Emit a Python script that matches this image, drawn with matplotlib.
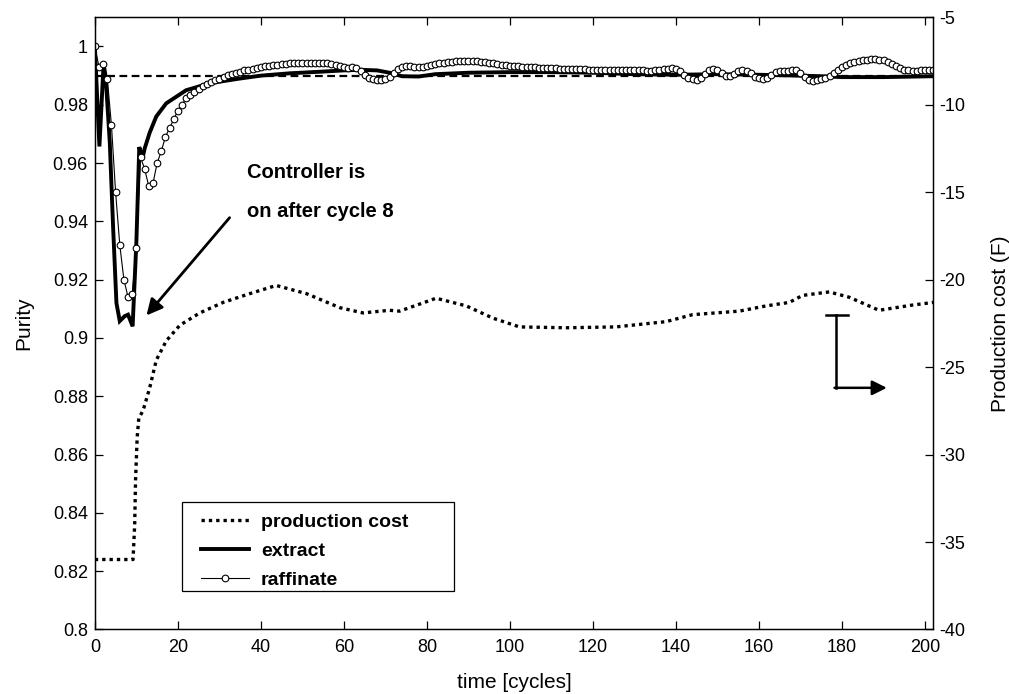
import numpy as np
import matplotlib
matplotlib.use('Agg')
import matplotlib.pyplot as plt
from matplotlib.lines import Line2D
from matplotlib.patches import Rectangle
from matplotlib.ticker import FormatStrFormatter, MultipleLocator

plt.rcParams['font.family'] = ['Liberation Sans', 'DejaVu Sans']
plt.rcParams['axes.unicode_minus'] = False

# raffinate purity, one value per cycle (0..202)
raffinate = [
    1.000, 0.993, 0.994, 0.989, 0.973, 0.950, 0.932, 0.920, 0.914, 0.915,
    0.931, 0.962, 0.958, 0.952, 0.953, 0.960, 0.964, 0.969, 0.972, 0.975,
    0.978, 0.980, 0.9823, 0.9835, 0.9845, 0.9855, 0.9865, 0.9872, 0.9879, 0.9885,
    0.989, 0.9896, 0.9901, 0.9906, 0.991, 0.9914, 0.9918, 0.9921, 0.9924, 0.9927,
    0.9929, 0.9932, 0.9934, 0.9936, 0.9938, 0.994, 0.9941, 0.9942, 0.9943, 0.9944,
    0.9944, 0.9945, 0.9945, 0.9945, 0.9945, 0.9944, 0.9943, 0.9941, 0.9938, 0.9934,
    0.993, 0.9926, 0.9928, 0.9926, 0.9915, 0.9902, 0.9892, 0.9887, 0.9885, 0.9886,
    0.9889, 0.9897, 0.991, 0.9922, 0.9929, 0.9933, 0.9933, 0.993, 0.9928, 0.993,
    0.9934, 0.9938, 0.9941, 0.9943, 0.9945, 0.9947, 0.9948, 0.9949, 0.995, 0.995,
    0.995, 0.995, 0.9949, 0.9948, 0.9946, 0.9944, 0.9942, 0.994, 0.9938, 0.9936,
    0.9934, 0.9933, 0.9932, 0.9931, 0.993, 0.9929, 0.9928, 0.9927, 0.9926, 0.9926,
    0.9925, 0.9925, 0.9924, 0.9924, 0.9923, 0.9923, 0.9922, 0.9922, 0.9922, 0.9921,
    0.9921, 0.9921, 0.992, 0.992, 0.992, 0.992, 0.9919, 0.9919, 0.9919, 0.9918,
    0.9918, 0.9918, 0.9918, 0.9917, 0.9917, 0.9918, 0.992, 0.9922, 0.9924, 0.9925,
    0.9923, 0.9915, 0.9903, 0.9893, 0.9887, 0.9886, 0.9892, 0.9905, 0.9918, 0.9923,
    0.9919, 0.9908, 0.9899, 0.9898, 0.9906, 0.9916, 0.992, 0.9917, 0.9908, 0.9897,
    0.9891, 0.989, 0.9893, 0.9902, 0.9911, 0.9915, 0.9916, 0.9917, 0.9919, 0.9918,
    0.991, 0.9896, 0.9886, 0.9883, 0.9884, 0.9887, 0.9891, 0.9898, 0.9908, 0.9918,
    0.9928, 0.9936, 0.9942, 0.9947, 0.995, 0.9953, 0.9955, 0.9956, 0.9956, 0.9955,
    0.9953, 0.9948, 0.994, 0.9932, 0.9925, 0.992, 0.9918, 0.9917, 0.9917, 0.9918,
    0.992, 0.992, 0.9921,
]
raff_t = np.arange(len(raffinate))

# extract purity
extract_t = [0, 1.1, 2.1, 2.6, 3.6, 4.4, 5.2, 6.0, 7.2, 8.0, 9.1, 10.0, 10.7, 11.5,
             12.0, 13.2, 14.8, 17.2, 22, 27.7, 34.9, 40, 46.9, 55, 60, 64, 68, 71,
             74, 78, 82, 90, 100, 110, 120, 130, 140, 150, 160, 170, 175, 180, 190, 202]
extract = [1.0, 0.9657, 0.9940, 0.9897, 0.967, 0.938, 0.912, 0.9058, 0.9075, 0.908,
           0.904, 0.9327, 0.9655, 0.9618, 0.9650, 0.9704, 0.976, 0.9805, 0.985, 0.9874,
           0.989, 0.990, 0.9908, 0.9914, 0.9918, 0.992, 0.9918, 0.991, 0.9898, 0.9897,
           0.9905, 0.991, 0.9912, 0.9912, 0.991, 0.9905, 0.9903, 0.9905, 0.9903, 0.990,
           0.9898, 0.9895, 0.9895, 0.9898]

# purity set point
setpoint = 0.99

# production cost (right axis)
cost_t = [0, 9.2, 9.6, 9.8, 10.2, 10.6, 11.6, 13.2, 14.8, 17.2, 20.5, 25.3, 30.9, 37.3,
          43.7, 51, 59, 64.6, 71, 73.4, 78.2, 82.2, 89.5, 95.9, 102.3, 113.5, 125.5,
          137.6, 144, 149.6, 155.2, 161.7, 167.3, 170.5, 176.9, 181.7, 188.9, 197, 202]
cost = [-36.0, -36.0, -34.0, -31.5, -29.0, -27.9, -27.5, -26.2, -24.6, -23.5, -22.6,
        -21.9, -21.3, -20.8, -20.33, -20.8, -21.6, -21.9, -21.75, -21.8, -21.4, -21.06,
        -21.5, -22.2, -22.7, -22.75, -22.7, -22.4, -22.0, -21.9, -21.8, -21.5, -21.3,
        -20.9, -20.7, -21.0, -21.75, -21.45, -21.3]

fig = plt.figure(figsize=(10.09, 6.94), dpi=100)
ax = fig.add_axes([0.094, 0.093, 0.831, 0.882])
ax2 = ax.twinx()

ax.plot([0, 202], [setpoint, setpoint], color='k', lw=1.6, linestyle=(0, (3.5, 2)))
ax.plot(extract_t, extract, color='k', lw=2.8, solid_joinstyle='miter')
ax.plot(raff_t, raffinate, color='k', lw=0.8, marker='o', ms=4.8,
        mfc='white', mec='k', mew=0.8)
ax2.plot(cost_t, cost, color='k', lw=2.4, linestyle=(0, (1, 1.2)))

ax.set_xlim(0, 202)
ax.set_ylim(0.8, 1.01)
ax2.set_ylim(-40, -5)
ax.xaxis.set_major_locator(MultipleLocator(20))
ax.yaxis.set_major_locator(MultipleLocator(0.02))
ax.yaxis.set_major_formatter(FormatStrFormatter('%g'))
ax2.yaxis.set_major_locator(MultipleLocator(5))

ax.tick_params(direction='in', length=6, width=0.9, top=True, right=False,
               labelsize=13, pad=5)
ax.tick_params(axis='x', pad=7)
ax2.tick_params(direction='in', length=6, width=0.9, labelsize=13, pad=4)
for a in (ax, ax2):
    for s in a.spines.values():
        s.set_linewidth(0.9)

ax.set_xlabel('time [cycles]', fontsize=15, labelpad=12)
ax.set_ylabel('Purity', fontsize=15, labelpad=14)
ax2.set_ylabel('Production cost (F)', fontsize=15, labelpad=19)

# controller annotation
ax.annotate('', xy=(12.0, 0.907), xytext=(32.9, 0.942),
            arrowprops=dict(arrowstyle='-|>', color='k', lw=2, mutation_scale=24))
ax.text(36.6, 0.9567, 'Controller is', fontsize=14.5, fontweight='bold', va='center')
ax.text(36.6, 0.9433, 'on after cycle 8', fontsize=14.5, fontweight='bold', va='center')

# axis pointer for the cost curve
ax.plot([178.6, 178.6], [0.9078, 0.8829], color='k', lw=1.8)
ax.plot([176.1, 181.5], [0.9078, 0.9078], color='k', lw=1.8)
ax.annotate('', xy=(190.8, 0.8829), xytext=(178.2, 0.8829),
            arrowprops=dict(arrowstyle='-|>', color='k', lw=1.8, mutation_scale=22,
                            shrinkA=0, shrinkB=0))

# legend: frameless entries inside a plain box
ax.add_patch(Rectangle((0.1037, 0.063), 0.325, 0.1455, transform=ax.transAxes,
                       facecolor='white', edgecolor='k', lw=0.9, zorder=4))
handles = [
    Line2D([], [], color='k', lw=2.4, linestyle=(0, (1, 1.2))),
    Line2D([], [], color='k', lw=2.8),
    Line2D([], [], color='k', lw=0.8, marker='o', ms=4.8, mfc='white', mew=0.8),
]
leg = ax.legend(handles, ['production cost', 'extract', 'raffinate'],
                loc='upper left', bbox_to_anchor=(0.1263, 0.1894),
                borderaxespad=0, borderpad=0, frameon=False,
                handlelength=2.5, handletextpad=0.6, labelspacing=0.59,
                prop={'size': 14, 'weight': 'bold'})
leg.set_zorder(5)

fig.savefig('out.png', dpi=100)
